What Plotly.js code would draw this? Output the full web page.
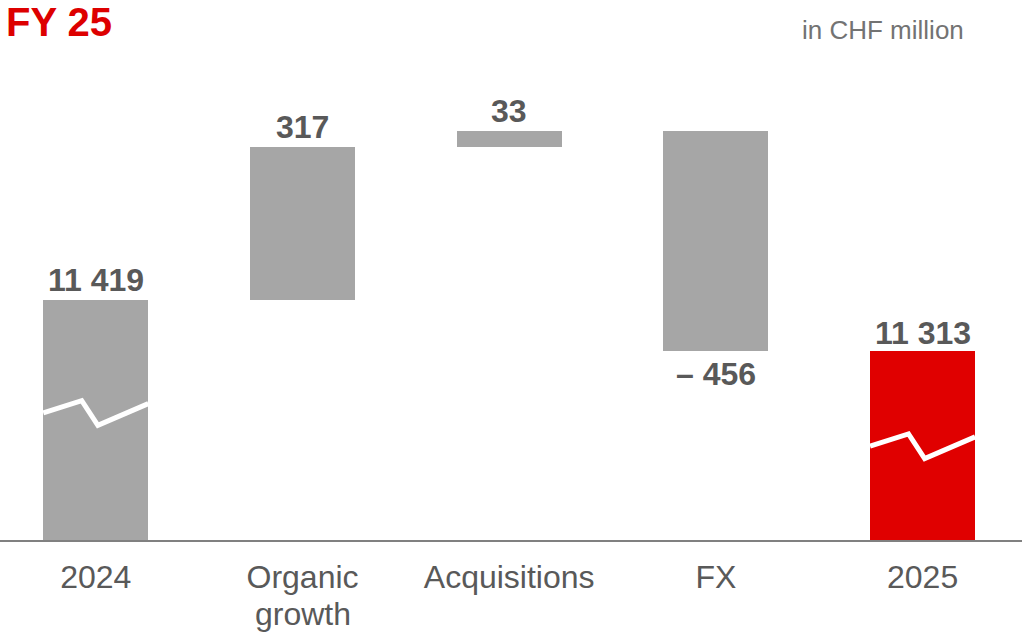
<!DOCTYPE html>
<html>
<head>
<meta charset="utf-8">
<script src="https://cdn.plot.ly/plotly-3.0.1.min.js"></script>
<style>
  html, body { margin: 0; padding: 0; background: #ffffff; }
  #chart { width: 1022px; height: 632px; }
</style>
</head>
<body>
<div id="chart"></div>
<script>
// Sales bridge FY 24 -> FY 25, in CHF million
const categories = ['2024', 'Organic<br>growth', 'Acquisitions', 'FX', '2025'];
const values = [11419, 317, 33, -456, 11313];
const measures = ['absolute', 'relative', 'relative', 'relative', 'total'];
const valueLabels = ['11 419', '317', '33', '\u2013 456', '11 313'];

// Level (in CHF million) where the axis-break zigzag crosses the two total bars
const breakLevels = [11184, null, null, null, 11115];

const GREY = '#a6a6a6';
const RED = '#e00000';
const TEXT_DARK = '#595959';
const FONT = '"Liberation Sans", Arial, Helvetica, sans-serif';

// Floating bars: totals start from zero, changes start at the running total
const xs = categories.map((_, i) => i);
const bases = [];
const heights = [];
const tops = [];
const bottoms = [];
let running = 0;
values.forEach((v, i) => {
  if (measures[i] === 'relative') {
    bases.push(running);
    heights.push(v);
    tops.push(Math.max(running, running + v));
    bottoms.push(Math.min(running, running + v));
    running += v;
  } else {
    bases.push(0);
    heights.push(v);
    tops.push(v);
    bottoms.push(0);
    running = v;
  }
});
const colors = measures.map((m, i) => (i === values.length - 1 ? RED : GREY));

const BAR_WIDTH = 0.508;

const bars = {
  type: 'bar',
  x: xs,
  y: heights,
  base: bases,
  width: BAR_WIDTH,
  marker: { color: colors, line: { width: 0 } },
  hoverinfo: 'skip',
  showlegend: false
};

// Zigzag "broken axis" marks across the total bars
const zigDx = [-BAR_WIDTH / 2, -0.068, 0.010, BAR_WIDTH / 2];
const zigDy = [0, 25, -26, 19];
const zx = [];
const zy = [];
breakLevels.forEach((lvl, i) => {
  if (lvl === null) return;
  zigDx.forEach((dx, k) => { zx.push(xs[i] + dx); zy.push(lvl + zigDy[k]); });
  zx.push(null); zy.push(null);
});
const zigzag = {
  type: 'scatter',
  mode: 'lines',
  x: zx,
  y: zy,
  line: { color: '#ffffff', width: 5 },
  hoverinfo: 'skip',
  showlegend: false
};

// Value labels: above the bar for increases/totals, below for decreases
const annotations = values.map((v, i) => {
  const down = measures[i] === 'relative' && v < 0;
  const last = i === values.length - 1;
  return {
    x: xs[i],
    y: down ? bottoms[i] : tops[i],
    xref: 'x',
    yref: 'y',
    text: '<b>' + valueLabels[i] + '</b>',
    showarrow: false,
    xanchor: 'center',
    yanchor: down ? 'top' : 'bottom',
    yshift: down ? -3 : (last ? -2 : 0),
    font: { family: FONT, size: 32, color: TEXT_DARK }
  };
});

// Category names: first line is the tick label, further lines sit tightly below
const tickLines = categories.map(c => c.split('<br>'));
tickLines.forEach((lines, i) => {
  lines.slice(1).forEach((line, k) => {
    annotations.push({
      x: xs[i], xref: 'x',
      y: 0, yref: 'paper',
      text: line,
      showarrow: false,
      xanchor: 'center', yanchor: 'middle',
      yshift: -74 - 35 * k,
      font: { family: FONT, size: 32, color: TEXT_DARK }
    });
  });
});

annotations.push({
  text: '<b>FY 25</b>',
  xref: 'paper', yref: 'paper',
  x: 0.004, y: 1.079,
  xanchor: 'left', yanchor: 'middle',
  showarrow: false,
  font: { family: FONT, size: 40, color: '#dd0000' }
});
annotations.push({
  text: 'in CHF million',
  xref: 'paper', yref: 'paper',
  x: 0.9452, y: 1.0625,
  xanchor: 'right', yanchor: 'middle',
  showarrow: false,
  font: { family: FONT, size: 26, color: '#737373' }
});

const layout = {
  width: 1022,
  height: 632,
  margin: { l: 0, r: 0, t: 60, b: 92, pad: 0 },
  paper_bgcolor: '#ffffff',
  plot_bgcolor: '#ffffff',
  showlegend: false,
  bargap: 0,
  xaxis: {
    range: [-0.4635, 4.481],
    tickmode: 'array',
    tickvals: xs,
    ticktext: tickLines.map(l => l[0]),
    showgrid: false,
    zeroline: false,
    showline: true,
    linecolor: '#808080',
    linewidth: 2,
    ticks: '',
    ticklabelstandoff: 8,
    tickfont: { family: FONT, size: 32, color: TEXT_DARK },
    fixedrange: true
  },
  yaxis: {
    range: [10920, 11916],
    showgrid: false,
    zeroline: false,
    showline: false,
    showticklabels: false,
    ticks: '',
    fixedrange: true
  },
  annotations: annotations
};

Plotly.newPlot('chart', [bars, zigzag], layout, { displayModeBar: false, staticPlot: true });
</script>
</body>
</html>
